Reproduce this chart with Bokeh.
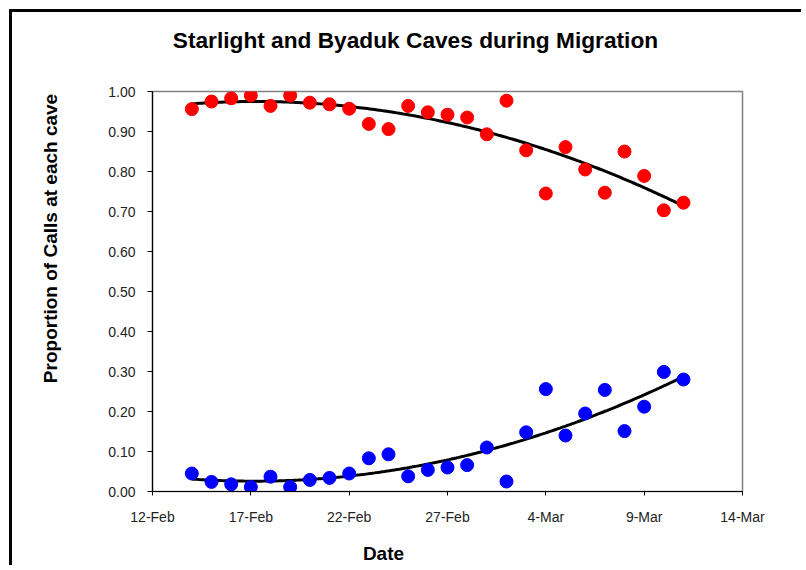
import numpy as np
import pandas as pd
from bokeh.plotting import figure
from bokeh.models import FixedTicker, ColumnDataSource, LinearAxis
from bokeh.embed import file_html
from bokeh.resources import INLINE

# ---------------- data ----------------
title_text = "Starlight and Byaduk Caves during Migration"
x_label = "Date"
y_label = "Proportion of Calls at each cave"

axis_start = "2009-02-12"
dates = pd.date_range("2009-02-14", "2009-03-11", freq="D")

starlight = [0.956, 0.975, 0.983, 0.990, 0.964, 0.990, 0.972, 0.968, 0.957, 0.919,
             0.906, 0.964, 0.948, 0.942, 0.935, 0.893, 0.977, 0.853, 0.745, 0.861,
             0.805, 0.747, 0.850, 0.789, 0.703, 0.722]
byaduk = [0.045, 0.024, 0.018, 0.011, 0.037, 0.011, 0.029, 0.034, 0.045, 0.083,
          0.093, 0.038, 0.054, 0.060, 0.066, 0.110, 0.025, 0.148, 0.256, 0.140,
          0.195, 0.254, 0.151, 0.212, 0.299, 0.280]

x_tick_days = [0, 5, 10, 15, 20, 25, 30]
x_tick_labels = ["12-Feb", "17-Feb", "22-Feb", "27-Feb", "4-Mar", "9-Mar", "14-Mar"]
y_ticks = [0.0, 0.1, 0.2, 0.3, 0.4, 0.5, 0.6, 0.7, 0.8, 0.9, 1.0]
y_tick_labels = ["0.00", "0.10", "0.20", "0.30", "0.40", "0.50", "0.60", "0.70", "0.80", "0.90", "1.00"]

# ---------------- derived ----------------
x_days = np.array((dates - pd.Timestamp(axis_start)).days, dtype=float)
src = ColumnDataSource(dict(x=x_days, s=starlight, b=byaduk))

xf = np.linspace(x_days.min(), x_days.max(), 200)
fit_s = np.polyval(np.polyfit(x_days, starlight, 2), xf)
fit_b = np.polyval(np.polyfit(x_days, byaduk, 2), xf)

FONT = "Liberation Sans"
W, H = 792, 556
ML, MT, MR, MB = 140, 79, 62, 77

p = figure(width=W, height=H, output_backend="svg", toolbar_location=None,
           x_range=(x_tick_days[0], x_tick_days[-1]), y_range=(y_ticks[0], y_ticks[-1]),
           min_border_left=ML, min_border_right=MR, min_border_top=MT, min_border_bottom=MB)
p.title_location = None
p.styles = {"border-top": "3px solid black", "border-left": "3px solid black",
            "margin-left": "9px", "margin-top": "9px"}

p.xgrid.visible = False
p.ygrid.visible = False
p.outline_line_color = "#808080"
p.outline_line_width = 1.5
p.background_fill_color = "white"
p.border_fill_color = "white"

# axes
p.xaxis.ticker = FixedTicker(ticks=x_tick_days)
p.xaxis.major_label_overrides = {d: l for d, l in zip(x_tick_days, x_tick_labels)}
p.yaxis.ticker = FixedTicker(ticks=y_ticks)
p.yaxis.major_label_overrides = {t: l for t, l in zip(y_ticks, y_tick_labels)}
for ax in (p.xaxis, p.yaxis):
    ax.axis_line_color = "black"
    ax.axis_line_width = 1.2
    ax.major_tick_line_color = "black"
    ax.major_tick_in = 0
    ax.minor_tick_line_color = None
    ax.major_label_text_font = FONT
    ax.major_label_text_font_size = "14px"
    ax.major_label_text_color = "#222222"
p.xaxis.major_tick_out = 4
p.yaxis.major_tick_out = 5
p.xaxis.major_label_standoff = 13
p.yaxis.major_label_standoff = 12

# data
p.line(xf, fit_s, line_color="black", line_width=3)
p.line(xf, fit_b, line_color="black", line_width=3)
p.scatter("x", "s", source=src, size=13, fill_color="#FF0000", line_color="#FF0000")
p.scatter("x", "b", source=src, size=13, fill_color="#0000FF", line_color="#0000FF")


def text_axis(text, at, size, standoff, orientation="horizontal"):
    # line-less axis with a single tick whose label is the wanted text, centred at `at`
    return LinearAxis(ticker=FixedTicker(ticks=[at]), major_label_overrides={at: text},
                      axis_line_color=None, major_tick_line_color=None,
                      minor_tick_line_color=None, major_tick_in=0, major_tick_out=0,
                      minor_tick_in=0, minor_tick_out=0, major_label_standoff=standoff,
                      major_label_orientation=orientation,
                      major_label_text_font=FONT, major_label_text_font_style="bold",
                      major_label_text_font_size=size, major_label_text_color="black")


p.add_layout(text_axis(title_text, 13.37, "22.7px", 39), "above")
p.add_layout(text_axis(y_label, 0.6325, "19px", 45, "vertical"), "left")
p.add_layout(text_axis(x_label, 11.745, "19px", 15), "below")

open("out.html", "w").write(file_html(p, INLINE))
